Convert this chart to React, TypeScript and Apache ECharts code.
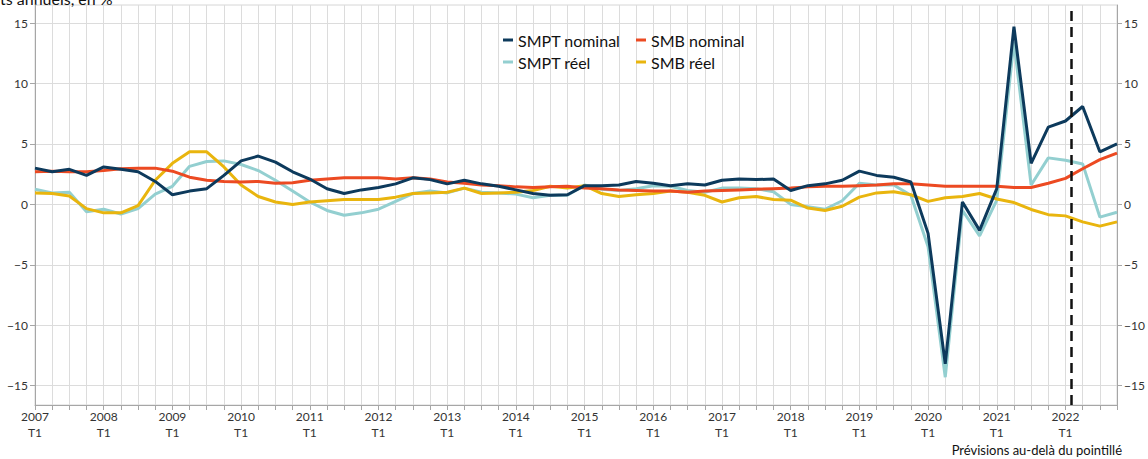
import React, { useEffect, useRef } from "react";
import * as echarts from "echarts";

const years = [2007, 2008, 2009, 2010, 2011, 2012, 2013, 2014, 2015, 2016, 2017, 2018, 2019, 2020, 2021, 2022];
const quarterNames = ["T1", "T2", "T3", "T4"];
const periods = years.flatMap((y) => quarterNames.map((q) => `${y} ${q}`));

const yTicks = [-15, -10, -5, 0, 5, 10, 15];

const smptNominal = [
  3.0, 2.7, 2.9, 2.4, 3.1, 2.9, 2.7, 1.9,
  0.8, 1.1, 1.3, 2.4, 3.6, 4.0, 3.5, 2.7,
  2.1, 1.3, 0.9, 1.2, 1.4, 1.7, 2.2, 2.05,
  1.7, 2.0, 1.7, 1.5, 1.2, 0.9, 0.75, 0.8,
  1.55, 1.55, 1.6, 1.9, 1.75, 1.55, 1.7, 1.6,
  2.0, 2.1, 2.05, 2.1, 1.15, 1.55, 1.7, 2.0,
  2.75, 2.4, 2.25, 1.85, -2.4, -13.2, 0.2, -2.15,
  1.3, 14.7, 3.4, 6.4, 6.9, 8.1, 4.35, 5.0,
];

const smbNominal = [
  2.7, 2.75, 2.7, 2.7, 2.8, 2.95, 3.0, 3.0,
  2.75, 2.25, 2.0, 1.9, 1.85, 1.9, 1.75, 1.8,
  2.0, 2.1, 2.2, 2.2, 2.2, 2.1, 2.2, 2.1,
  1.85, 1.75, 1.6, 1.55, 1.45, 1.4, 1.45, 1.5,
  1.35, 1.3, 1.2, 1.15, 1.1, 1.1, 1.0, 1.1,
  1.15, 1.2, 1.25, 1.3, 1.35, 1.45, 1.5, 1.5,
  1.55, 1.6, 1.7, 1.7, 1.6, 1.5, 1.5, 1.5,
  1.5, 1.4, 1.4, 1.75, 2.15, 2.95, 3.7, 4.25,
];

const smptReel = [
  1.25, 0.95, 1.0, -0.6, -0.4, -0.8, -0.35, 0.85,
  1.5, 3.15, 3.55, 3.6, 3.3, 2.8, 2.0, 1.1,
  0.2, -0.5, -0.9, -0.7, -0.4, 0.25, 0.9, 1.1,
  0.95, 1.35, 1.0, 0.95, 0.85, 0.55, 0.75, 0.75,
  1.6, 1.25, 1.15, 1.3, 1.55, 1.5, 1.15, 1.0,
  1.35, 1.35, 1.3, 1.05, 0.0, -0.2, -0.4, 0.3,
  1.75, 1.6, 1.6, 0.75, -3.5, -14.3, -0.5, -2.6,
  0.35, 13.45, 1.6, 3.85, 3.65, 3.35, -1.05, -0.65,
];

const smbReel = [
  0.95, 0.9, 0.7, -0.35, -0.7, -0.7, -0.1, 2.0,
  3.4, 4.35, 4.35, 3.1, 1.6, 0.65, 0.2, 0.0,
  0.2, 0.3, 0.4, 0.4, 0.4, 0.6, 0.9, 0.95,
  1.0, 1.35, 0.9, 0.95, 1.0, 1.15, 1.5, 1.35,
  1.55, 0.9, 0.65, 0.8, 0.9, 1.1, 1.0, 0.75,
  0.2, 0.55, 0.65, 0.4, 0.35, -0.3, -0.5, -0.15,
  0.6, 0.95, 1.05, 0.8, 0.25, 0.55, 0.65, 0.9,
  0.45, 0.15, -0.42, -0.85, -0.95, -1.45, -1.8, -1.45,
];

// position of the forecast boundary (in quarter index units, just after 2022 T1)
const forecastStart = 60.35;

const COLORS = {
  smptNominal: "#0d3a5c",
  smbNominal: "#ec4a22",
  smptReel: "#93cfd0",
  smbReel: "#e9b50e",
};

const FONT = "Lato, 'Noto Sans', sans-serif";

const toPairs = (arr: number[]) => arr.map((v, i) => [i, v]);
const minus = (v: number) => String(v).replace("-", "\u2212");

export default function App() {
  const ref = useRef<HTMLDivElement>(null);

  useEffect(() => {
    if (!ref.current) return;
    const chart = echarts.init(ref.current, null, { renderer: "svg" });

    const lineSeries = (name: string, data: number[], color: string, extra: any = {}) => ({
      name,
      type: "line",
      data: toPairs(data),
      color,
      showSymbol: false,
      symbol: "none",
      lineStyle: { color, width: 3 },
      itemStyle: { color },
      ...extra,
    });

    const yAxisBase = {
      type: "value",
      min: -16.6,
      max: 16.5,
      axisLine: { show: true, lineStyle: { color: "#a6a6a6", width: 1 } },
      axisTick: { show: true, length: 5, customValues: yTicks, lineStyle: { color: "#a6a6a6" } },
      axisLabel: {
        customValues: yTicks,
        formatter: (v: number) => minus(v),
        color: "#333",
        fontSize: 12,
        fontFamily: FONT,
        margin: 7,
      },
    };

    chart.setOption({
      animation: false,
      textStyle: { fontFamily: FONT },
      grid: {
        left: 35,
        right: 31,
        top: 5,
        bottom: 54,
        show: true,
        borderColor: "#d6d6d6",
        borderWidth: 1,
      },
      legend: [
        {
          data: ["SMPT nominal", "SMPT réel"],
          orient: "vertical",
          left: 503,
          top: 31,
          icon: "rect",
          itemWidth: 10,
          itemHeight: 3,
          itemGap: 4,
          padding: 0,
          textStyle: { fontSize: 16, color: "#111", fontFamily: FONT, lineHeight: 18 },
        },
        {
          data: ["SMB nominal", "SMB réel"],
          orient: "vertical",
          left: 636,
          top: 31,
          icon: "rect",
          itemWidth: 10,
          itemHeight: 3,
          itemGap: 4,
          padding: 0,
          textStyle: { fontSize: 16, color: "#111", fontFamily: FONT, lineHeight: 18 },
        },
      ],
      xAxis: {
        type: "value",
        min: 0,
        max: periods.length - 1,
        interval: 1,
        axisLine: { show: true, onZero: false, lineStyle: { color: "#a6a6a6" } },
        axisTick: { show: true, length: 5, lineStyle: { color: "#a6a6a6" } },
        splitLine: { show: true, lineStyle: { color: "#dcdcdc", width: 1 } },
        axisLabel: {
          color: "#333",
          fontSize: 12,
          fontFamily: FONT,
          lineHeight: 16,
          margin: 3,
          formatter: (v: number) => {
            const p = periods[v];
            if (!p) return "";
            const [y, q] = p.split(" ");
            return q === quarterNames[0] ? `${y}\n${q}` : "";
          },
        },
      },
      yAxis: [
        {
          ...yAxisBase,
          position: "left",
          splitLine: { show: true, lineStyle: { color: "#dcdcdc", width: 1 } },
        },
        {
          ...yAxisBase,
          position: "right",
          splitLine: { show: false },
        },
      ],
      series: [
        lineSeries("SMPT réel", smptReel, COLORS.smptReel),
        lineSeries("SMB réel", smbReel, COLORS.smbReel),
        lineSeries("SMB nominal", smbNominal, COLORS.smbNominal),
        lineSeries("SMPT nominal", smptNominal, COLORS.smptNominal, {
          markLine: {
            silent: true,
            symbol: ["none", "none"],
            label: { show: false },
            lineStyle: { color: "#111", width: 2.5, type: [10, 6] },
            data: [{ xAxis: forecastStart }],
          },
        }),
      ],
      graphic: [
        {
          type: "text",
          left: 0,
          top: -10,
          style: {
            text: "ts annuels, en %",
            fontSize: 16,
            fontFamily: FONT,
            fill: "#111",
          },
        },
        {
          type: "text",
          right: 26,
          top: 443,
          style: {
            text: "Prévisions au-delà du pointillé",
            fontSize: 13,
            fontFamily: FONT,
            fill: "#111",
          },
        },
      ],
    });

    return () => chart.dispose();
  }, []);

  return <div ref={ref} style={{ width: 1148, height: 459, position: "absolute", left: 0, top: 0 }} />;
}
